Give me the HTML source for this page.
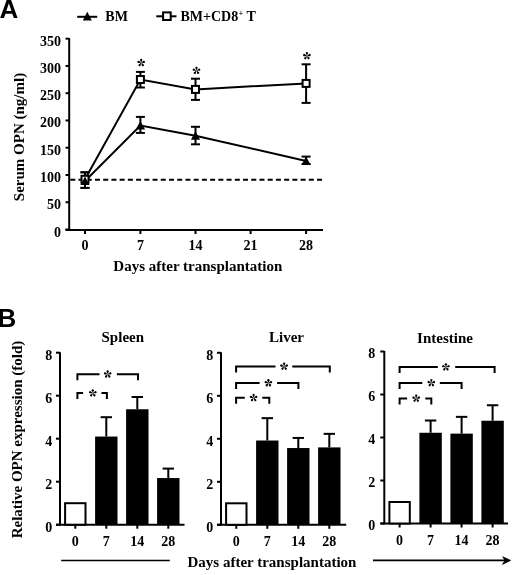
<!DOCTYPE html>
<html><head><meta charset="utf-8"><style>
html,body{margin:0;padding:0;background:#fff;width:520px;height:575px;overflow:hidden;}
svg{display:block;will-change:transform;}
</style></head><body>
<svg width="520" height="575" viewBox="0 0 520 575">
<rect width="520" height="575" fill="#fff"/>
<text x="-0.5" y="17.9" font-family="Liberation Sans, sans-serif" font-weight="bold" font-size="26">A</text>
<text x="-2.6" y="326.9" font-family="Liberation Sans, sans-serif" font-weight="bold" font-size="26">B</text>
<line x1="77.2" y1="16.8" x2="97.2" y2="16.8" stroke="#000" stroke-width="2"/>
<polygon points="87.3,11.7 91.8,20.4 82.8,20.4" fill="#000"/>
<text x="105.3" y="21.3" font-family="Liberation Serif, serif" font-weight="bold" font-size="14">BM</text>
<line x1="156.3" y1="16.3" x2="176.5" y2="16.3" stroke="#000" stroke-width="2"/>
<rect x="163.1" y="12.4" width="7.6" height="7.6" fill="#fff" stroke="#000" stroke-width="2"/>
<text x="180.4" y="21.0" font-family="Liberation Serif, serif" font-weight="bold" font-size="14">BM+CD8<tspan font-size="8.5" dy="-4.6" dx="0.3">+</tspan><tspan dy="4.6"> T</tspan></text>
<line x1="69.2" y1="38" x2="69.2" y2="231" stroke="#000" stroke-width="2"/>
<line x1="65.5" y1="230" x2="323" y2="230" stroke="#000" stroke-width="2"/>
<line x1="65.5" y1="229.50" x2="69" y2="229.50" stroke="#000" stroke-width="2"/>
<text x="61" y="236.50" font-family="Liberation Serif, serif" font-weight="bold" font-size="14" text-anchor="end">0</text>
<line x1="65.5" y1="202.24" x2="69" y2="202.24" stroke="#000" stroke-width="2"/>
<text x="61" y="209.24" font-family="Liberation Serif, serif" font-weight="bold" font-size="14" text-anchor="end">50</text>
<line x1="65.5" y1="174.98" x2="69" y2="174.98" stroke="#000" stroke-width="2"/>
<text x="61" y="181.98" font-family="Liberation Serif, serif" font-weight="bold" font-size="14" text-anchor="end">100</text>
<line x1="65.5" y1="147.72" x2="69" y2="147.72" stroke="#000" stroke-width="2"/>
<text x="61" y="154.72" font-family="Liberation Serif, serif" font-weight="bold" font-size="14" text-anchor="end">150</text>
<line x1="65.5" y1="120.46" x2="69" y2="120.46" stroke="#000" stroke-width="2"/>
<text x="61" y="127.46" font-family="Liberation Serif, serif" font-weight="bold" font-size="14" text-anchor="end">200</text>
<line x1="65.5" y1="93.20" x2="69" y2="93.20" stroke="#000" stroke-width="2"/>
<text x="61" y="100.20" font-family="Liberation Serif, serif" font-weight="bold" font-size="14" text-anchor="end">250</text>
<line x1="65.5" y1="65.94" x2="69" y2="65.94" stroke="#000" stroke-width="2"/>
<text x="61" y="72.94" font-family="Liberation Serif, serif" font-weight="bold" font-size="14" text-anchor="end">300</text>
<line x1="65.5" y1="38.68" x2="69" y2="38.68" stroke="#000" stroke-width="2"/>
<text x="61" y="45.68" font-family="Liberation Serif, serif" font-weight="bold" font-size="14" text-anchor="end">350</text>
<line x1="85.0" y1="230" x2="85.0" y2="234" stroke="#000" stroke-width="2"/>
<text x="85.0" y="249.5" font-family="Liberation Serif, serif" font-weight="bold" font-size="14" text-anchor="middle">0</text>
<line x1="140.4" y1="230" x2="140.4" y2="234" stroke="#000" stroke-width="2"/>
<text x="140.4" y="249.5" font-family="Liberation Serif, serif" font-weight="bold" font-size="14" text-anchor="middle">7</text>
<line x1="195.5" y1="230" x2="195.5" y2="234" stroke="#000" stroke-width="2"/>
<text x="195.5" y="249.5" font-family="Liberation Serif, serif" font-weight="bold" font-size="14" text-anchor="middle">14</text>
<line x1="250.6" y1="230" x2="250.6" y2="234" stroke="#000" stroke-width="2"/>
<text x="250.6" y="249.5" font-family="Liberation Serif, serif" font-weight="bold" font-size="14" text-anchor="middle">21</text>
<line x1="306.1" y1="230" x2="306.1" y2="234" stroke="#000" stroke-width="2"/>
<text x="306.1" y="249.5" font-family="Liberation Serif, serif" font-weight="bold" font-size="14" text-anchor="middle">28</text>
<text x="197.8" y="270.8" font-family="Liberation Serif, serif" font-weight="bold" font-size="15" text-anchor="middle">Days after transplantation</text>
<text transform="translate(24.3,137) rotate(-90)" x="0" y="0" font-family="Liberation Serif, serif" font-weight="bold" font-size="15" text-anchor="middle">Serum OPN (ng/ml)</text>
<line x1="70.3" y1="179.7" x2="322.1" y2="179.7" stroke="#000" stroke-width="2" stroke-dasharray="5,3.225"/>
<polyline points="85.0,179.3 140.4,79.5 195.5,89.4 306.1,83.4" fill="none" stroke="#000" stroke-width="2"/>
<polyline points="85.0,181.0 140.4,125.5 195.5,135.8 306.1,160.9" fill="none" stroke="#000" stroke-width="2"/>
<line x1="85.0" y1="172.3" x2="85.0" y2="187.9" stroke="#000" stroke-width="2"/>
<line x1="80.5" y1="172.3" x2="89.5" y2="172.3" stroke="#000" stroke-width="2"/>
<line x1="80.5" y1="187.9" x2="89.5" y2="187.9" stroke="#000" stroke-width="2"/>
<line x1="140.4" y1="71.9" x2="140.4" y2="87.5" stroke="#000" stroke-width="2"/>
<line x1="135.9" y1="71.9" x2="144.9" y2="71.9" stroke="#000" stroke-width="2"/>
<line x1="135.9" y1="87.5" x2="144.9" y2="87.5" stroke="#000" stroke-width="2"/>
<line x1="195.5" y1="78.7" x2="195.5" y2="99.9" stroke="#000" stroke-width="2"/>
<line x1="191.0" y1="78.7" x2="200.0" y2="78.7" stroke="#000" stroke-width="2"/>
<line x1="191.0" y1="99.9" x2="200.0" y2="99.9" stroke="#000" stroke-width="2"/>
<line x1="306.1" y1="64.3" x2="306.1" y2="102.9" stroke="#000" stroke-width="2"/>
<line x1="301.6" y1="64.3" x2="310.6" y2="64.3" stroke="#000" stroke-width="2"/>
<line x1="301.6" y1="102.9" x2="310.6" y2="102.9" stroke="#000" stroke-width="2"/>
<line x1="85.0" y1="172.3" x2="85.0" y2="187.9" stroke="#000" stroke-width="2"/>
<line x1="80.5" y1="172.3" x2="89.5" y2="172.3" stroke="#000" stroke-width="2"/>
<line x1="80.5" y1="187.9" x2="89.5" y2="187.9" stroke="#000" stroke-width="2"/>
<line x1="140.4" y1="116.9" x2="140.4" y2="132.9" stroke="#000" stroke-width="2"/>
<line x1="135.9" y1="116.9" x2="144.9" y2="116.9" stroke="#000" stroke-width="2"/>
<line x1="135.9" y1="132.9" x2="144.9" y2="132.9" stroke="#000" stroke-width="2"/>
<line x1="195.5" y1="126.8" x2="195.5" y2="144.3" stroke="#000" stroke-width="2"/>
<line x1="191.0" y1="126.8" x2="200.0" y2="126.8" stroke="#000" stroke-width="2"/>
<line x1="191.0" y1="144.3" x2="200.0" y2="144.3" stroke="#000" stroke-width="2"/>
<line x1="306.1" y1="156.6" x2="306.1" y2="164.0" stroke="#000" stroke-width="2"/>
<line x1="301.6" y1="156.6" x2="310.6" y2="156.6" stroke="#000" stroke-width="2"/>
<line x1="301.6" y1="164.0" x2="310.6" y2="164.0" stroke="#000" stroke-width="2"/>
<rect x="81.5" y="175.8" width="7" height="7" fill="#fff" stroke="#000" stroke-width="2"/>
<rect x="136.9" y="76.0" width="7" height="7" fill="#fff" stroke="#000" stroke-width="2"/>
<rect x="192.0" y="85.9" width="7" height="7" fill="#fff" stroke="#000" stroke-width="2"/>
<rect x="302.6" y="79.9" width="7" height="7" fill="#fff" stroke="#000" stroke-width="2"/>
<polygon points="85.0,176.5 89.6,185.0 80.4,185.0" fill="#000"/>
<polygon points="140.4,121.0 145.0,129.5 135.8,129.5" fill="#000"/>
<polygon points="195.5,131.3 200.1,139.8 190.9,139.8" fill="#000"/>
<polygon points="306.1,156.4 310.70000000000005,164.9 301.5,164.9" fill="#000"/>
<g transform="translate(141.2,62.8)" fill="#000"><path d="M0,0 L-1.15,-2.8 A1.15,1.15 0 0 1 1.15,-2.8 Z" transform="rotate(0)"/><path d="M0,0 L-1.15,-2.8 A1.15,1.15 0 0 1 1.15,-2.8 Z" transform="rotate(72)"/><path d="M0,0 L-1.15,-2.8 A1.15,1.15 0 0 1 1.15,-2.8 Z" transform="rotate(144)"/><path d="M0,0 L-1.15,-2.8 A1.15,1.15 0 0 1 1.15,-2.8 Z" transform="rotate(216)"/><path d="M0,0 L-1.15,-2.8 A1.15,1.15 0 0 1 1.15,-2.8 Z" transform="rotate(288)"/></g>
<g transform="translate(196.5,70.6)" fill="#000"><path d="M0,0 L-1.15,-2.8 A1.15,1.15 0 0 1 1.15,-2.8 Z" transform="rotate(0)"/><path d="M0,0 L-1.15,-2.8 A1.15,1.15 0 0 1 1.15,-2.8 Z" transform="rotate(72)"/><path d="M0,0 L-1.15,-2.8 A1.15,1.15 0 0 1 1.15,-2.8 Z" transform="rotate(144)"/><path d="M0,0 L-1.15,-2.8 A1.15,1.15 0 0 1 1.15,-2.8 Z" transform="rotate(216)"/><path d="M0,0 L-1.15,-2.8 A1.15,1.15 0 0 1 1.15,-2.8 Z" transform="rotate(288)"/></g>
<g transform="translate(306.9,55.9)" fill="#000"><path d="M0,0 L-1.15,-2.8 A1.15,1.15 0 0 1 1.15,-2.8 Z" transform="rotate(0)"/><path d="M0,0 L-1.15,-2.8 A1.15,1.15 0 0 1 1.15,-2.8 Z" transform="rotate(72)"/><path d="M0,0 L-1.15,-2.8 A1.15,1.15 0 0 1 1.15,-2.8 Z" transform="rotate(144)"/><path d="M0,0 L-1.15,-2.8 A1.15,1.15 0 0 1 1.15,-2.8 Z" transform="rotate(216)"/><path d="M0,0 L-1.15,-2.8 A1.15,1.15 0 0 1 1.15,-2.8 Z" transform="rotate(288)"/></g>
<line x1="60.0" y1="352.20000000000005" x2="60.0" y2="525.7" stroke="#000" stroke-width="2"/>
<line x1="56.0" y1="524.7" x2="184.5" y2="524.7" stroke="#000" stroke-width="2"/>
<line x1="56.0" y1="524.70" x2="60.0" y2="524.70" stroke="#000" stroke-width="2"/>
<text x="52.2" y="532.00" font-family="Liberation Serif, serif" font-weight="bold" font-size="14" text-anchor="end">0</text>
<line x1="56.0" y1="481.70" x2="60.0" y2="481.70" stroke="#000" stroke-width="2"/>
<text x="52.2" y="489.00" font-family="Liberation Serif, serif" font-weight="bold" font-size="14" text-anchor="end">2</text>
<line x1="56.0" y1="438.70" x2="60.0" y2="438.70" stroke="#000" stroke-width="2"/>
<text x="52.2" y="446.00" font-family="Liberation Serif, serif" font-weight="bold" font-size="14" text-anchor="end">4</text>
<line x1="56.0" y1="395.70" x2="60.0" y2="395.70" stroke="#000" stroke-width="2"/>
<text x="52.2" y="403.00" font-family="Liberation Serif, serif" font-weight="bold" font-size="14" text-anchor="end">6</text>
<line x1="56.0" y1="352.70" x2="60.0" y2="352.70" stroke="#000" stroke-width="2"/>
<text x="52.2" y="360.00" font-family="Liberation Serif, serif" font-weight="bold" font-size="14" text-anchor="end">8</text>
<rect x="65.1" y="503.20" width="20.4" height="21.50" fill="#fff" stroke="#000" stroke-width="2"/>
<line x1="75.3" y1="524.7" x2="75.3" y2="528.7" stroke="#000" stroke-width="2"/>
<text x="75.3" y="546.10" font-family="Liberation Serif, serif" font-weight="bold" font-size="14" text-anchor="middle">0</text>
<line x1="106.3" y1="417.20" x2="106.3" y2="436.55" stroke="#000" stroke-width="2"/>
<line x1="100.6" y1="417.20" x2="112.0" y2="417.20" stroke="#000" stroke-width="2"/>
<rect x="95.1" y="436.55" width="22.4" height="88.15" fill="#000"/>
<line x1="106.3" y1="524.7" x2="106.3" y2="528.7" stroke="#000" stroke-width="2"/>
<text x="106.3" y="546.10" font-family="Liberation Serif, serif" font-weight="bold" font-size="14" text-anchor="middle">7</text>
<line x1="137.3" y1="396.99" x2="137.3" y2="409.25" stroke="#000" stroke-width="2"/>
<line x1="131.60000000000002" y1="396.99" x2="143.0" y2="396.99" stroke="#000" stroke-width="2"/>
<rect x="126.10000000000001" y="409.25" width="22.4" height="115.45" fill="#000"/>
<line x1="137.3" y1="524.7" x2="137.3" y2="528.7" stroke="#000" stroke-width="2"/>
<text x="137.3" y="546.10" font-family="Liberation Serif, serif" font-weight="bold" font-size="14" text-anchor="middle">14</text>
<line x1="168.3" y1="468.59" x2="168.3" y2="478.05" stroke="#000" stroke-width="2"/>
<line x1="162.60000000000002" y1="468.59" x2="174.0" y2="468.59" stroke="#000" stroke-width="2"/>
<rect x="157.10000000000002" y="478.05" width="22.4" height="46.65" fill="#000"/>
<line x1="168.3" y1="524.7" x2="168.3" y2="528.7" stroke="#000" stroke-width="2"/>
<text x="168.3" y="546.10" font-family="Liberation Serif, serif" font-weight="bold" font-size="14" text-anchor="middle">28</text>
<text x="122.8" y="341.5" font-family="Liberation Serif, serif" font-weight="bold" font-size="15" text-anchor="middle">Spleen</text>
<polyline points="77.4,380.2 77.4,374.2 99.5,374.2" fill="none" stroke="#000" stroke-width="2"/>
<polyline points="116.9,374.2 138.0,374.2 138.0,380.2" fill="none" stroke="#000" stroke-width="2"/>
<g transform="translate(107.7,374.2)" fill="#000"><path d="M0,0 L-1.15,-2.8 A1.15,1.15 0 0 1 1.15,-2.8 Z" transform="rotate(0)"/><path d="M0,0 L-1.15,-2.8 A1.15,1.15 0 0 1 1.15,-2.8 Z" transform="rotate(72)"/><path d="M0,0 L-1.15,-2.8 A1.15,1.15 0 0 1 1.15,-2.8 Z" transform="rotate(144)"/><path d="M0,0 L-1.15,-2.8 A1.15,1.15 0 0 1 1.15,-2.8 Z" transform="rotate(216)"/><path d="M0,0 L-1.15,-2.8 A1.15,1.15 0 0 1 1.15,-2.8 Z" transform="rotate(288)"/></g>
<polyline points="77.4,399.1 77.4,393.1 83.1,393.1" fill="none" stroke="#000" stroke-width="2"/>
<polyline points="101.5,393.1 106.9,393.1 106.9,399.1" fill="none" stroke="#000" stroke-width="2"/>
<g transform="translate(92.8,393.1)" fill="#000"><path d="M0,0 L-1.15,-2.8 A1.15,1.15 0 0 1 1.15,-2.8 Z" transform="rotate(0)"/><path d="M0,0 L-1.15,-2.8 A1.15,1.15 0 0 1 1.15,-2.8 Z" transform="rotate(72)"/><path d="M0,0 L-1.15,-2.8 A1.15,1.15 0 0 1 1.15,-2.8 Z" transform="rotate(144)"/><path d="M0,0 L-1.15,-2.8 A1.15,1.15 0 0 1 1.15,-2.8 Z" transform="rotate(216)"/><path d="M0,0 L-1.15,-2.8 A1.15,1.15 0 0 1 1.15,-2.8 Z" transform="rotate(288)"/></g>
<line x1="221.0" y1="352.29999999999995" x2="221.0" y2="525.8" stroke="#000" stroke-width="2"/>
<line x1="217.0" y1="524.8" x2="346.2" y2="524.8" stroke="#000" stroke-width="2"/>
<line x1="217.0" y1="524.80" x2="221.0" y2="524.80" stroke="#000" stroke-width="2"/>
<text x="213.2" y="532.10" font-family="Liberation Serif, serif" font-weight="bold" font-size="14" text-anchor="end">0</text>
<line x1="217.0" y1="481.80" x2="221.0" y2="481.80" stroke="#000" stroke-width="2"/>
<text x="213.2" y="489.10" font-family="Liberation Serif, serif" font-weight="bold" font-size="14" text-anchor="end">2</text>
<line x1="217.0" y1="438.80" x2="221.0" y2="438.80" stroke="#000" stroke-width="2"/>
<text x="213.2" y="446.10" font-family="Liberation Serif, serif" font-weight="bold" font-size="14" text-anchor="end">4</text>
<line x1="217.0" y1="395.80" x2="221.0" y2="395.80" stroke="#000" stroke-width="2"/>
<text x="213.2" y="403.10" font-family="Liberation Serif, serif" font-weight="bold" font-size="14" text-anchor="end">6</text>
<line x1="217.0" y1="352.80" x2="221.0" y2="352.80" stroke="#000" stroke-width="2"/>
<text x="213.2" y="360.10" font-family="Liberation Serif, serif" font-weight="bold" font-size="14" text-anchor="end">8</text>
<rect x="226.10000000000002" y="503.30" width="20.4" height="21.50" fill="#fff" stroke="#000" stroke-width="2"/>
<line x1="236.3" y1="524.8" x2="236.3" y2="528.8" stroke="#000" stroke-width="2"/>
<text x="236.3" y="546.20" font-family="Liberation Serif, serif" font-weight="bold" font-size="14" text-anchor="middle">0</text>
<line x1="267.3" y1="418.16" x2="267.3" y2="440.52" stroke="#000" stroke-width="2"/>
<line x1="261.6" y1="418.16" x2="273.0" y2="418.16" stroke="#000" stroke-width="2"/>
<rect x="256.1" y="440.52" width="22.4" height="84.28" fill="#000"/>
<line x1="267.3" y1="524.8" x2="267.3" y2="528.8" stroke="#000" stroke-width="2"/>
<text x="267.3" y="546.20" font-family="Liberation Serif, serif" font-weight="bold" font-size="14" text-anchor="middle">7</text>
<line x1="298.3" y1="437.94" x2="298.3" y2="448.04" stroke="#000" stroke-width="2"/>
<line x1="292.6" y1="437.94" x2="304.0" y2="437.94" stroke="#000" stroke-width="2"/>
<rect x="287.1" y="448.04" width="22.4" height="76.75" fill="#000"/>
<line x1="298.3" y1="524.8" x2="298.3" y2="528.8" stroke="#000" stroke-width="2"/>
<text x="298.3" y="546.20" font-family="Liberation Serif, serif" font-weight="bold" font-size="14" text-anchor="middle">14</text>
<line x1="329.3" y1="433.85" x2="329.3" y2="447.40" stroke="#000" stroke-width="2"/>
<line x1="323.6" y1="433.85" x2="335.0" y2="433.85" stroke="#000" stroke-width="2"/>
<rect x="318.1" y="447.40" width="22.4" height="77.40" fill="#000"/>
<line x1="329.3" y1="524.8" x2="329.3" y2="528.8" stroke="#000" stroke-width="2"/>
<text x="329.3" y="546.20" font-family="Liberation Serif, serif" font-weight="bold" font-size="14" text-anchor="middle">28</text>
<text x="286.5" y="342.2" font-family="Liberation Serif, serif" font-weight="bold" font-size="15" text-anchor="middle">Liver</text>
<polyline points="236.1,372.4 236.1,366.4 275.5,366.4" fill="none" stroke="#000" stroke-width="2"/>
<polyline points="292.3,366.4 329.8,366.4 329.8,372.4" fill="none" stroke="#000" stroke-width="2"/>
<g transform="translate(284.1,366.4)" fill="#000"><path d="M0,0 L-1.15,-2.8 A1.15,1.15 0 0 1 1.15,-2.8 Z" transform="rotate(0)"/><path d="M0,0 L-1.15,-2.8 A1.15,1.15 0 0 1 1.15,-2.8 Z" transform="rotate(72)"/><path d="M0,0 L-1.15,-2.8 A1.15,1.15 0 0 1 1.15,-2.8 Z" transform="rotate(144)"/><path d="M0,0 L-1.15,-2.8 A1.15,1.15 0 0 1 1.15,-2.8 Z" transform="rotate(216)"/><path d="M0,0 L-1.15,-2.8 A1.15,1.15 0 0 1 1.15,-2.8 Z" transform="rotate(288)"/></g>
<polyline points="236.1,389.0 236.1,383.0 259.6,383.0" fill="none" stroke="#000" stroke-width="2"/>
<polyline points="277.1,383.0 298.4,383.0 298.4,389.0" fill="none" stroke="#000" stroke-width="2"/>
<g transform="translate(268.4,383.0)" fill="#000"><path d="M0,0 L-1.15,-2.8 A1.15,1.15 0 0 1 1.15,-2.8 Z" transform="rotate(0)"/><path d="M0,0 L-1.15,-2.8 A1.15,1.15 0 0 1 1.15,-2.8 Z" transform="rotate(72)"/><path d="M0,0 L-1.15,-2.8 A1.15,1.15 0 0 1 1.15,-2.8 Z" transform="rotate(144)"/><path d="M0,0 L-1.15,-2.8 A1.15,1.15 0 0 1 1.15,-2.8 Z" transform="rotate(216)"/><path d="M0,0 L-1.15,-2.8 A1.15,1.15 0 0 1 1.15,-2.8 Z" transform="rotate(288)"/></g>
<polyline points="236.1,403.8 236.1,397.8 244.8,397.8" fill="none" stroke="#000" stroke-width="2"/>
<polyline points="262.3,397.8 269.3,397.8 269.3,403.8" fill="none" stroke="#000" stroke-width="2"/>
<g transform="translate(253.6,397.8)" fill="#000"><path d="M0,0 L-1.15,-2.8 A1.15,1.15 0 0 1 1.15,-2.8 Z" transform="rotate(0)"/><path d="M0,0 L-1.15,-2.8 A1.15,1.15 0 0 1 1.15,-2.8 Z" transform="rotate(72)"/><path d="M0,0 L-1.15,-2.8 A1.15,1.15 0 0 1 1.15,-2.8 Z" transform="rotate(144)"/><path d="M0,0 L-1.15,-2.8 A1.15,1.15 0 0 1 1.15,-2.8 Z" transform="rotate(216)"/><path d="M0,0 L-1.15,-2.8 A1.15,1.15 0 0 1 1.15,-2.8 Z" transform="rotate(288)"/></g>
<line x1="384.3" y1="351.0" x2="384.3" y2="524.5" stroke="#000" stroke-width="2"/>
<line x1="380.3" y1="523.5" x2="508.0" y2="523.5" stroke="#000" stroke-width="2"/>
<line x1="380.3" y1="523.50" x2="384.3" y2="523.50" stroke="#000" stroke-width="2"/>
<text x="375.2" y="529.60" font-family="Liberation Serif, serif" font-weight="bold" font-size="14" text-anchor="end">0</text>
<line x1="380.3" y1="480.50" x2="384.3" y2="480.50" stroke="#000" stroke-width="2"/>
<text x="375.2" y="486.60" font-family="Liberation Serif, serif" font-weight="bold" font-size="14" text-anchor="end">2</text>
<line x1="380.3" y1="437.50" x2="384.3" y2="437.50" stroke="#000" stroke-width="2"/>
<text x="375.2" y="443.60" font-family="Liberation Serif, serif" font-weight="bold" font-size="14" text-anchor="end">4</text>
<line x1="380.3" y1="394.50" x2="384.3" y2="394.50" stroke="#000" stroke-width="2"/>
<text x="375.2" y="400.60" font-family="Liberation Serif, serif" font-weight="bold" font-size="14" text-anchor="end">6</text>
<line x1="380.3" y1="351.50" x2="384.3" y2="351.50" stroke="#000" stroke-width="2"/>
<text x="375.2" y="357.60" font-family="Liberation Serif, serif" font-weight="bold" font-size="14" text-anchor="end">8</text>
<rect x="389.40000000000003" y="502.00" width="20.4" height="21.50" fill="#fff" stroke="#000" stroke-width="2"/>
<line x1="399.6" y1="523.5" x2="399.6" y2="527.5" stroke="#000" stroke-width="2"/>
<text x="399.6" y="544.90" font-family="Liberation Serif, serif" font-weight="bold" font-size="14" text-anchor="middle">0</text>
<line x1="430.6" y1="420.51" x2="430.6" y2="432.77" stroke="#000" stroke-width="2"/>
<line x1="424.90000000000003" y1="420.51" x2="436.3" y2="420.51" stroke="#000" stroke-width="2"/>
<rect x="419.40000000000003" y="432.77" width="22.4" height="90.73" fill="#000"/>
<line x1="430.6" y1="523.5" x2="430.6" y2="527.5" stroke="#000" stroke-width="2"/>
<text x="430.6" y="544.90" font-family="Liberation Serif, serif" font-weight="bold" font-size="14" text-anchor="middle">7</text>
<line x1="461.6" y1="416.86" x2="461.6" y2="433.63" stroke="#000" stroke-width="2"/>
<line x1="455.90000000000003" y1="416.86" x2="467.3" y2="416.86" stroke="#000" stroke-width="2"/>
<rect x="450.40000000000003" y="433.63" width="22.4" height="89.87" fill="#000"/>
<line x1="461.6" y1="523.5" x2="461.6" y2="527.5" stroke="#000" stroke-width="2"/>
<text x="461.6" y="544.90" font-family="Liberation Serif, serif" font-weight="bold" font-size="14" text-anchor="middle">14</text>
<line x1="492.6" y1="405.25" x2="492.6" y2="420.73" stroke="#000" stroke-width="2"/>
<line x1="486.90000000000003" y1="405.25" x2="498.3" y2="405.25" stroke="#000" stroke-width="2"/>
<rect x="481.40000000000003" y="420.73" width="22.4" height="102.77" fill="#000"/>
<line x1="492.6" y1="523.5" x2="492.6" y2="527.5" stroke="#000" stroke-width="2"/>
<text x="492.6" y="544.90" font-family="Liberation Serif, serif" font-weight="bold" font-size="14" text-anchor="middle">28</text>
<text x="445.0" y="343.1" font-family="Liberation Serif, serif" font-weight="bold" font-size="15" text-anchor="middle">Intestine</text>
<polyline points="399.6,373.1 399.6,367.1 437.8,367.1" fill="none" stroke="#000" stroke-width="2"/>
<polyline points="455.2,367.1 494.6,367.1 494.6,373.1" fill="none" stroke="#000" stroke-width="2"/>
<g transform="translate(445.9,367.1)" fill="#000"><path d="M0,0 L-1.15,-2.8 A1.15,1.15 0 0 1 1.15,-2.8 Z" transform="rotate(0)"/><path d="M0,0 L-1.15,-2.8 A1.15,1.15 0 0 1 1.15,-2.8 Z" transform="rotate(72)"/><path d="M0,0 L-1.15,-2.8 A1.15,1.15 0 0 1 1.15,-2.8 Z" transform="rotate(144)"/><path d="M0,0 L-1.15,-2.8 A1.15,1.15 0 0 1 1.15,-2.8 Z" transform="rotate(216)"/><path d="M0,0 L-1.15,-2.8 A1.15,1.15 0 0 1 1.15,-2.8 Z" transform="rotate(288)"/></g>
<polyline points="399.6,388.9 399.6,382.9 422.3,382.9" fill="none" stroke="#000" stroke-width="2"/>
<polyline points="439.8,382.9 461.6,382.9 461.6,388.9" fill="none" stroke="#000" stroke-width="2"/>
<g transform="translate(431.3,382.9)" fill="#000"><path d="M0,0 L-1.15,-2.8 A1.15,1.15 0 0 1 1.15,-2.8 Z" transform="rotate(0)"/><path d="M0,0 L-1.15,-2.8 A1.15,1.15 0 0 1 1.15,-2.8 Z" transform="rotate(72)"/><path d="M0,0 L-1.15,-2.8 A1.15,1.15 0 0 1 1.15,-2.8 Z" transform="rotate(144)"/><path d="M0,0 L-1.15,-2.8 A1.15,1.15 0 0 1 1.15,-2.8 Z" transform="rotate(216)"/><path d="M0,0 L-1.15,-2.8 A1.15,1.15 0 0 1 1.15,-2.8 Z" transform="rotate(288)"/></g>
<polyline points="399.6,404.4 399.6,398.4 407.1,398.4" fill="none" stroke="#000" stroke-width="2"/>
<polyline points="425.3,398.4 431.3,398.4 431.3,404.4" fill="none" stroke="#000" stroke-width="2"/>
<g transform="translate(416.2,398.4)" fill="#000"><path d="M0,0 L-1.15,-2.8 A1.15,1.15 0 0 1 1.15,-2.8 Z" transform="rotate(0)"/><path d="M0,0 L-1.15,-2.8 A1.15,1.15 0 0 1 1.15,-2.8 Z" transform="rotate(72)"/><path d="M0,0 L-1.15,-2.8 A1.15,1.15 0 0 1 1.15,-2.8 Z" transform="rotate(144)"/><path d="M0,0 L-1.15,-2.8 A1.15,1.15 0 0 1 1.15,-2.8 Z" transform="rotate(216)"/><path d="M0,0 L-1.15,-2.8 A1.15,1.15 0 0 1 1.15,-2.8 Z" transform="rotate(288)"/></g>
<text transform="translate(22.4,439.5) rotate(-90)" x="0" y="0" font-family="Liberation Serif, serif" font-weight="bold" font-size="15" text-anchor="middle">Relative OPN expression (fold)</text>
<line x1="61.2" y1="560.5" x2="169.8" y2="560.5" stroke="#000" stroke-width="1.6"/>
<text x="187.5" y="566.8" font-family="Liberation Serif, serif" font-weight="bold" font-size="15">Days after transplantation</text>
<line x1="373" y1="560.4" x2="506" y2="560.4" stroke="#000" stroke-width="1.6"/>
<polygon points="510.6,560.4 502.7,556.7 505,560.4 502.4,564.4" fill="#000" stroke="#000" stroke-width="0.7" stroke-linejoin="round"/>
</svg>
</body></html>
